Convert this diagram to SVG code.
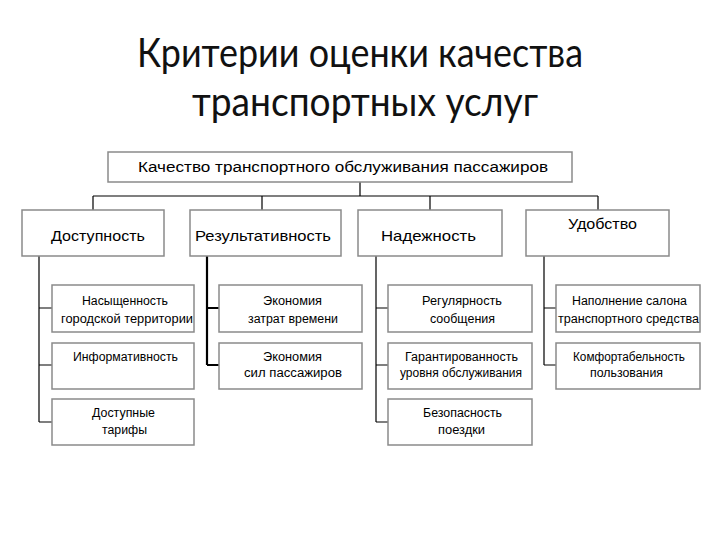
<svg xmlns="http://www.w3.org/2000/svg" width="720" height="540" viewBox="0 0 720 540">
<style>
.box{fill:#fff;stroke:#8a8a8a;stroke-width:1.5}
.ln{stroke:#000;stroke-width:1.2;fill:none}
.thk{stroke:#000;stroke-width:2.2;fill:none}
.title{font-family:Lato,"Open Sans",sans-serif;font-size:40px;fill:#111;text-anchor:start}
.t1{font-family:"Liberation Sans",Arial,sans-serif;font-size:14px;fill:#000}
.t2{font-family:"Liberation Sans",Arial,sans-serif;font-size:15px;fill:#000}
.t3{font-family:"Liberation Sans",Arial,sans-serif;font-size:12px;fill:#000}
</style>
<rect width="720" height="540" fill="#fff"/>
<g id="title">
<text class="title" x="137" y="67" textLength="446" lengthAdjust="spacingAndGlyphs">Критерии оценки качества</text>
<text class="title" x="192" y="116" textLength="346" lengthAdjust="spacingAndGlyphs">транспортных услуг</text>
</g>
<g id="connectors">
<path class="ln" d="M360 182V196M93 196H598M93 196V211M262 196V211M430 196V211M598 196V211"/>
<path class="ln" d="M39 256V422M39 308H52M39 365H52M39 422H52"/>
<path class="thk" d="M207 256V365M207 308H219M207 365H219"/>
<path class="ln" d="M376 256V422M376 308H388M376 365H388M376 422H388"/>
<path class="ln" d="M544 256V365M544 308H556M544 365H556"/>
</g>
<g id="root">
<rect class="box" x="108" y="152" width="464" height="30"/>
<text class="t1" x="138" y="172" textLength="410" lengthAdjust="spacingAndGlyphs">Качество транспортного обслуживания пассажиров</text>
</g>
<g id="dostupnost">
<rect class="box" x="22" y="210" width="142" height="46"/>
<text class="t2" x="51" y="241" textLength="94" lengthAdjust="spacingAndGlyphs">Доступность</text>
</g>
<g id="rezultativnost">
<rect class="box" x="190" y="210" width="151" height="46"/>
<text class="t2" x="195" y="241" textLength="136" lengthAdjust="spacingAndGlyphs">Результативность</text>
</g>
<g id="nadezhnost">
<rect class="box" x="358" y="210" width="144" height="46"/>
<text class="t2" x="381" y="241" textLength="95" lengthAdjust="spacingAndGlyphs">Надежность</text>
</g>
<g id="udobstvo">
<rect class="box" x="526" y="210" width="143" height="46"/>
<text class="t2" x="568" y="229" textLength="69" lengthAdjust="spacingAndGlyphs">Удобство</text>
</g>
<g id="nasyshchennost">
<rect class="box" x="52" y="285" width="142" height="47"/>
<text class="t3" x="82" y="305" textLength="86" lengthAdjust="spacingAndGlyphs">Насыщенность</text>
<text class="t3" x="61" y="323" textLength="132" lengthAdjust="spacingAndGlyphs">городской территории</text>
</g>
<g id="informativnost">
<rect class="box" x="52" y="343" width="142" height="46"/>
<text class="t3" x="73" y="361" textLength="105" lengthAdjust="spacingAndGlyphs">Информативность</text>
</g>
<g id="tarify">
<rect class="box" x="52" y="399" width="142" height="46"/>
<text class="t3" x="92" y="417" textLength="63" lengthAdjust="spacingAndGlyphs">Доступные</text>
<text class="t3" x="102" y="434" textLength="45" lengthAdjust="spacingAndGlyphs">тарифы</text>
</g>
<g id="ekonomiya-vremeni">
<rect class="box" x="219" y="285" width="143" height="47"/>
<text class="t3" x="263" y="305" textLength="59" lengthAdjust="spacingAndGlyphs">Экономия</text>
<text class="t3" x="248" y="323" textLength="90" lengthAdjust="spacingAndGlyphs">затрат времени</text>
</g>
<g id="ekonomiya-sil">
<rect class="box" x="219" y="343" width="143" height="46"/>
<text class="t3" x="263" y="361" textLength="59" lengthAdjust="spacingAndGlyphs">Экономия</text>
<text class="t3" x="244" y="377" textLength="98" lengthAdjust="spacingAndGlyphs">сил пассажиров</text>
</g>
<g id="regulyarnost">
<rect class="box" x="388" y="285" width="144" height="47"/>
<text class="t3" x="422" y="305" textLength="80" lengthAdjust="spacingAndGlyphs">Регулярность</text>
<text class="t3" x="430" y="323" textLength="65" lengthAdjust="spacingAndGlyphs">сообщения</text>
</g>
<g id="garantirovannost">
<rect class="box" x="388" y="343" width="144" height="46"/>
<text class="t3" x="405" y="361" textLength="113" lengthAdjust="spacingAndGlyphs">Гарантированность</text>
<text class="t3" x="400" y="377" textLength="122" lengthAdjust="spacingAndGlyphs">уровня обслуживания</text>
</g>
<g id="bezopasnost">
<rect class="box" x="388" y="399" width="144" height="46"/>
<text class="t3" x="423" y="417" textLength="79" lengthAdjust="spacingAndGlyphs">Безопасность</text>
<text class="t3" x="438" y="434" textLength="47" lengthAdjust="spacingAndGlyphs">поездки</text>
</g>
<g id="napolnenie">
<rect class="box" x="556" y="285" width="144" height="47"/>
<text class="t3" x="572" y="305" textLength="115" lengthAdjust="spacingAndGlyphs">Наполнение салона</text>
<text class="t3" x="558" y="323" textLength="141" lengthAdjust="spacingAndGlyphs">транспортного средства</text>
</g>
<g id="komfortabelnost">
<rect class="box" x="556" y="343" width="144" height="46"/>
<text class="t3" x="573" y="361" textLength="112" lengthAdjust="spacingAndGlyphs">Комфортабельность</text>
<text class="t3" x="590" y="377" textLength="73" lengthAdjust="spacingAndGlyphs">пользования</text>
</g>
</svg>
